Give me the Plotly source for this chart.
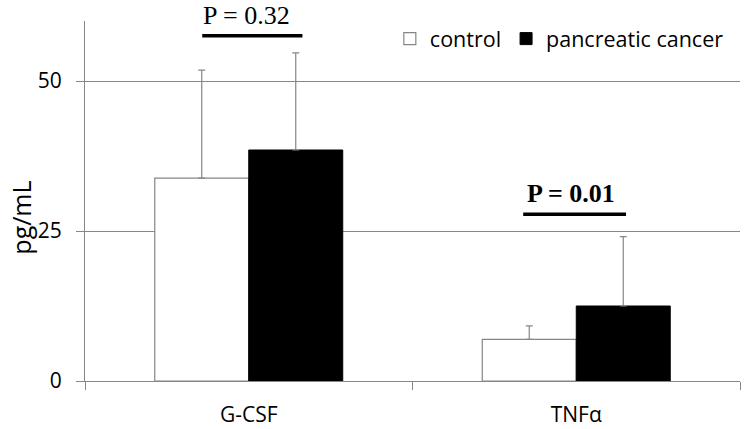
import plotly.graph_objects as go

categories = ["G-CSF", "TNFα"]
control_vals = [33.8, 6.95]
control_err = [18.0, 2.25]
cancer_vals = [38.5, 12.5]
cancer_err = [16.2, 11.55]
series_names = ["control", "pancreatic cancer"]
p_labels = ["P = 0.32", "<b>P = 0.01</b>"]
p_line_y = [57.55, 27.8]
p_line_x0 = [-0.142, -0.162]
p_line_x1 = [0.164, 0.152]
p_text_x = [-0.008, -0.015]
p_text_y = [60.9, 31.2]

Y_MAX = 60
GRAY = "#868686"

fig = go.Figure()
fig.add_trace(go.Bar(
    x=categories, y=control_vals, name=series_names[0],
    marker=dict(color="white", line=dict(color=GRAY, width=1.2)),
    error_y=dict(type="data", symmetric=False, array=control_err,
                 arrayminus=[0, 0], color=GRAY, thickness=1.2, width=3.5),
))
fig.add_trace(go.Bar(
    x=categories, y=cancer_vals, name=series_names[1],
    marker=dict(color="black", line=dict(color="black", width=1)),
    error_y=dict(type="data", symmetric=False, array=cancer_err,
                 arrayminus=[0, 0], color=GRAY, thickness=1.2, width=3.5),
))

for i, lab in enumerate(p_labels):
    fig.add_shape(type="line", xref="x", yref="y",
                  x0=i + p_line_x0[i], x1=i + p_line_x1[i],
                  y0=p_line_y[i], y1=p_line_y[i],
                  line=dict(color="black", width=3.5))
    fig.add_annotation(x=i + p_text_x[i],
                       y=p_text_y[i] / Y_MAX, xref="x", yref="y domain", text=lab,
                       showarrow=False, yanchor="middle", xanchor="center",
                       font=dict(family="Liberation Serif", size=26, color="black"))

fig.add_annotation(x=-0.097, y=0.455, xref="paper", yref="paper", text="pg/mL",
                   textangle=-90, showarrow=False, xanchor="center", yanchor="middle",
                   font=dict(size=25, family="Open Sans", color="black"))

fig.update_layout(
    width=744, height=429,
    margin=dict(l=85, r=4, t=21, b=48, autoexpand=False),
    plot_bgcolor="white", paper_bgcolor="white",
    barmode="group", bargap=0.426, bargroupgap=0,
    font=dict(family="Open Sans", color="black"),
    showlegend=True,
    hovermode=False,
    legend=dict(orientation="h", x=0.4654, y=1.008, xanchor="left", yanchor="top",
                font=dict(size=21.5, family="Open Sans", color="black"),
                bgcolor="rgba(0,0,0,0)", itemwidth=30, traceorder="normal"),
)
fig.update_xaxes(
    automargin=False,
    showline=True, linecolor=GRAY, linewidth=1.2,
    ticks="outside", tickson="boundaries", ticklen=8, tickcolor=GRAY,
    tickfont=dict(size=21, family="Open Sans", color="black"),
    ticklabelstandoff=15,
    showgrid=False,
)
fig.update_yaxes(
    automargin=False,
    range=[0, Y_MAX], tickvals=[0, 25, 50],
    showline=True, linecolor=GRAY, linewidth=1.2,
    ticks="outside", ticklen=8, tickcolor=GRAY,
    showgrid=True, gridcolor=GRAY, gridwidth=1,
    zeroline=False,
    tickfont=dict(size=21, family="Open Sans", color="black"),
    ticklabelstandoff=10,
)

fig.write_html(
    "out.html",
    config={"displayModeBar": False},
    post_script="document.body.style.margin='0';document.body.style.overflow='hidden';",
)
